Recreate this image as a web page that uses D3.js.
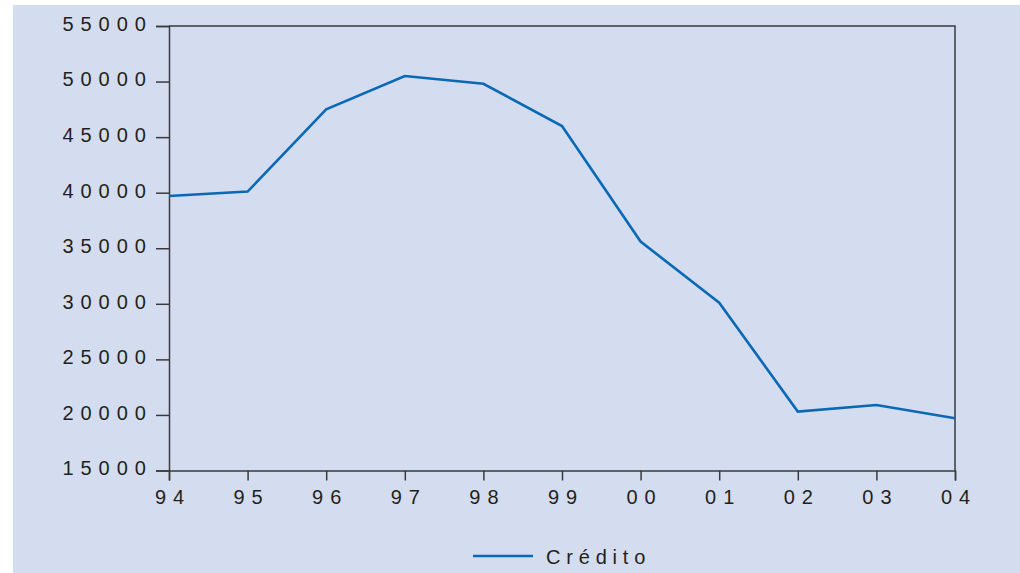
<!DOCTYPE html>
<html><head><meta charset="utf-8">
<script src="https://cdn.jsdelivr.net/npm/d3@7"></script>
<style>
html,body{margin:0;padding:0;background:#fff;}
svg{display:block;}
text{font-family:"Liberation Sans",Arial,sans-serif;fill:#231f20;}
</style></head><body>
<svg id="c" width="1020" height="573"></svg>
<script>
const years = ["94","95","96","97","98","99","00","01","02","03","04"];
const credito = [39700,40100,47500,50500,49800,46000,35600,30100,20300,20900,19700];
const yTicks = [15000,20000,25000,30000,35000,40000,45000,50000,55000];
const seriesName = "Crédito";

const svg = d3.select("#c");
svg.append("rect").attr("x",13).attr("y",5).attr("width",1007).attr("height",568).attr("fill","#d4ddef");

const L=169,R=955,T=26,B=470.5;
const x = d3.scalePoint().domain(years).range([L,R]);
const y = d3.scaleLinear().domain([15000,55000]).range([B,T]);
const LS = 7;

// frame top/right
svg.append("path").attr("d",`M${L},${T}H${R}V${B}`).attr("fill","none").attr("stroke","#3a3a3e").attr("stroke-width",1.5);

// y axis
const ya = svg.append("g").attr("transform",`translate(${L},0)`)
  .call(d3.axisLeft(y).tickValues(yTicks).tickSize(13).tickPadding(10).tickFormat(d3.format("d")));
ya.select(".domain").attr("stroke","#3a3a3e").attr("stroke-width",1.5);
ya.selectAll(".tick line").attr("stroke","#3a3a3e").attr("stroke-width",1.5);
ya.selectAll(".tick text").attr("font-size",20).attr("letter-spacing",LS+"px").attr("dx",LS+"px")
  .attr("font-family","Liberation Sans, Arial, sans-serif").attr("fill","#231f20").attr("dy","0.22em");

// x axis
const xa = svg.append("g").attr("transform",`translate(0,${B})`)
  .call(d3.axisBottom(x).tickSize(10).tickPadding(9));
xa.select(".domain").attr("stroke","#3a3a3e").attr("stroke-width",1.5);
xa.selectAll(".tick line").attr("stroke","#3a3a3e").attr("stroke-width",1.5);
xa.selectAll(".tick text").attr("font-size",20).attr("letter-spacing",LS+"px").attr("dx",(LS/2)+"px")
  .attr("font-family","Liberation Sans, Arial, sans-serif").attr("fill","#231f20");

// line
const line = d3.line().x((d,i)=>x(years[i])).y(d=>y(d));
svg.append("path").datum(credito).attr("d",line).attr("fill","none")
  .attr("stroke","#0a69b4").attr("stroke-width",2.6).attr("stroke-linejoin","miter");

// legend
svg.append("line").attr("x1",473).attr("x2",533).attr("y1",556).attr("y2",556)
  .attr("stroke","#0a69b4").attr("stroke-width",2.6);
svg.append("text").attr("x",546).attr("y",564).attr("font-size",20).attr("letter-spacing","5.8px").text(seriesName);
</script>
</body></html>
